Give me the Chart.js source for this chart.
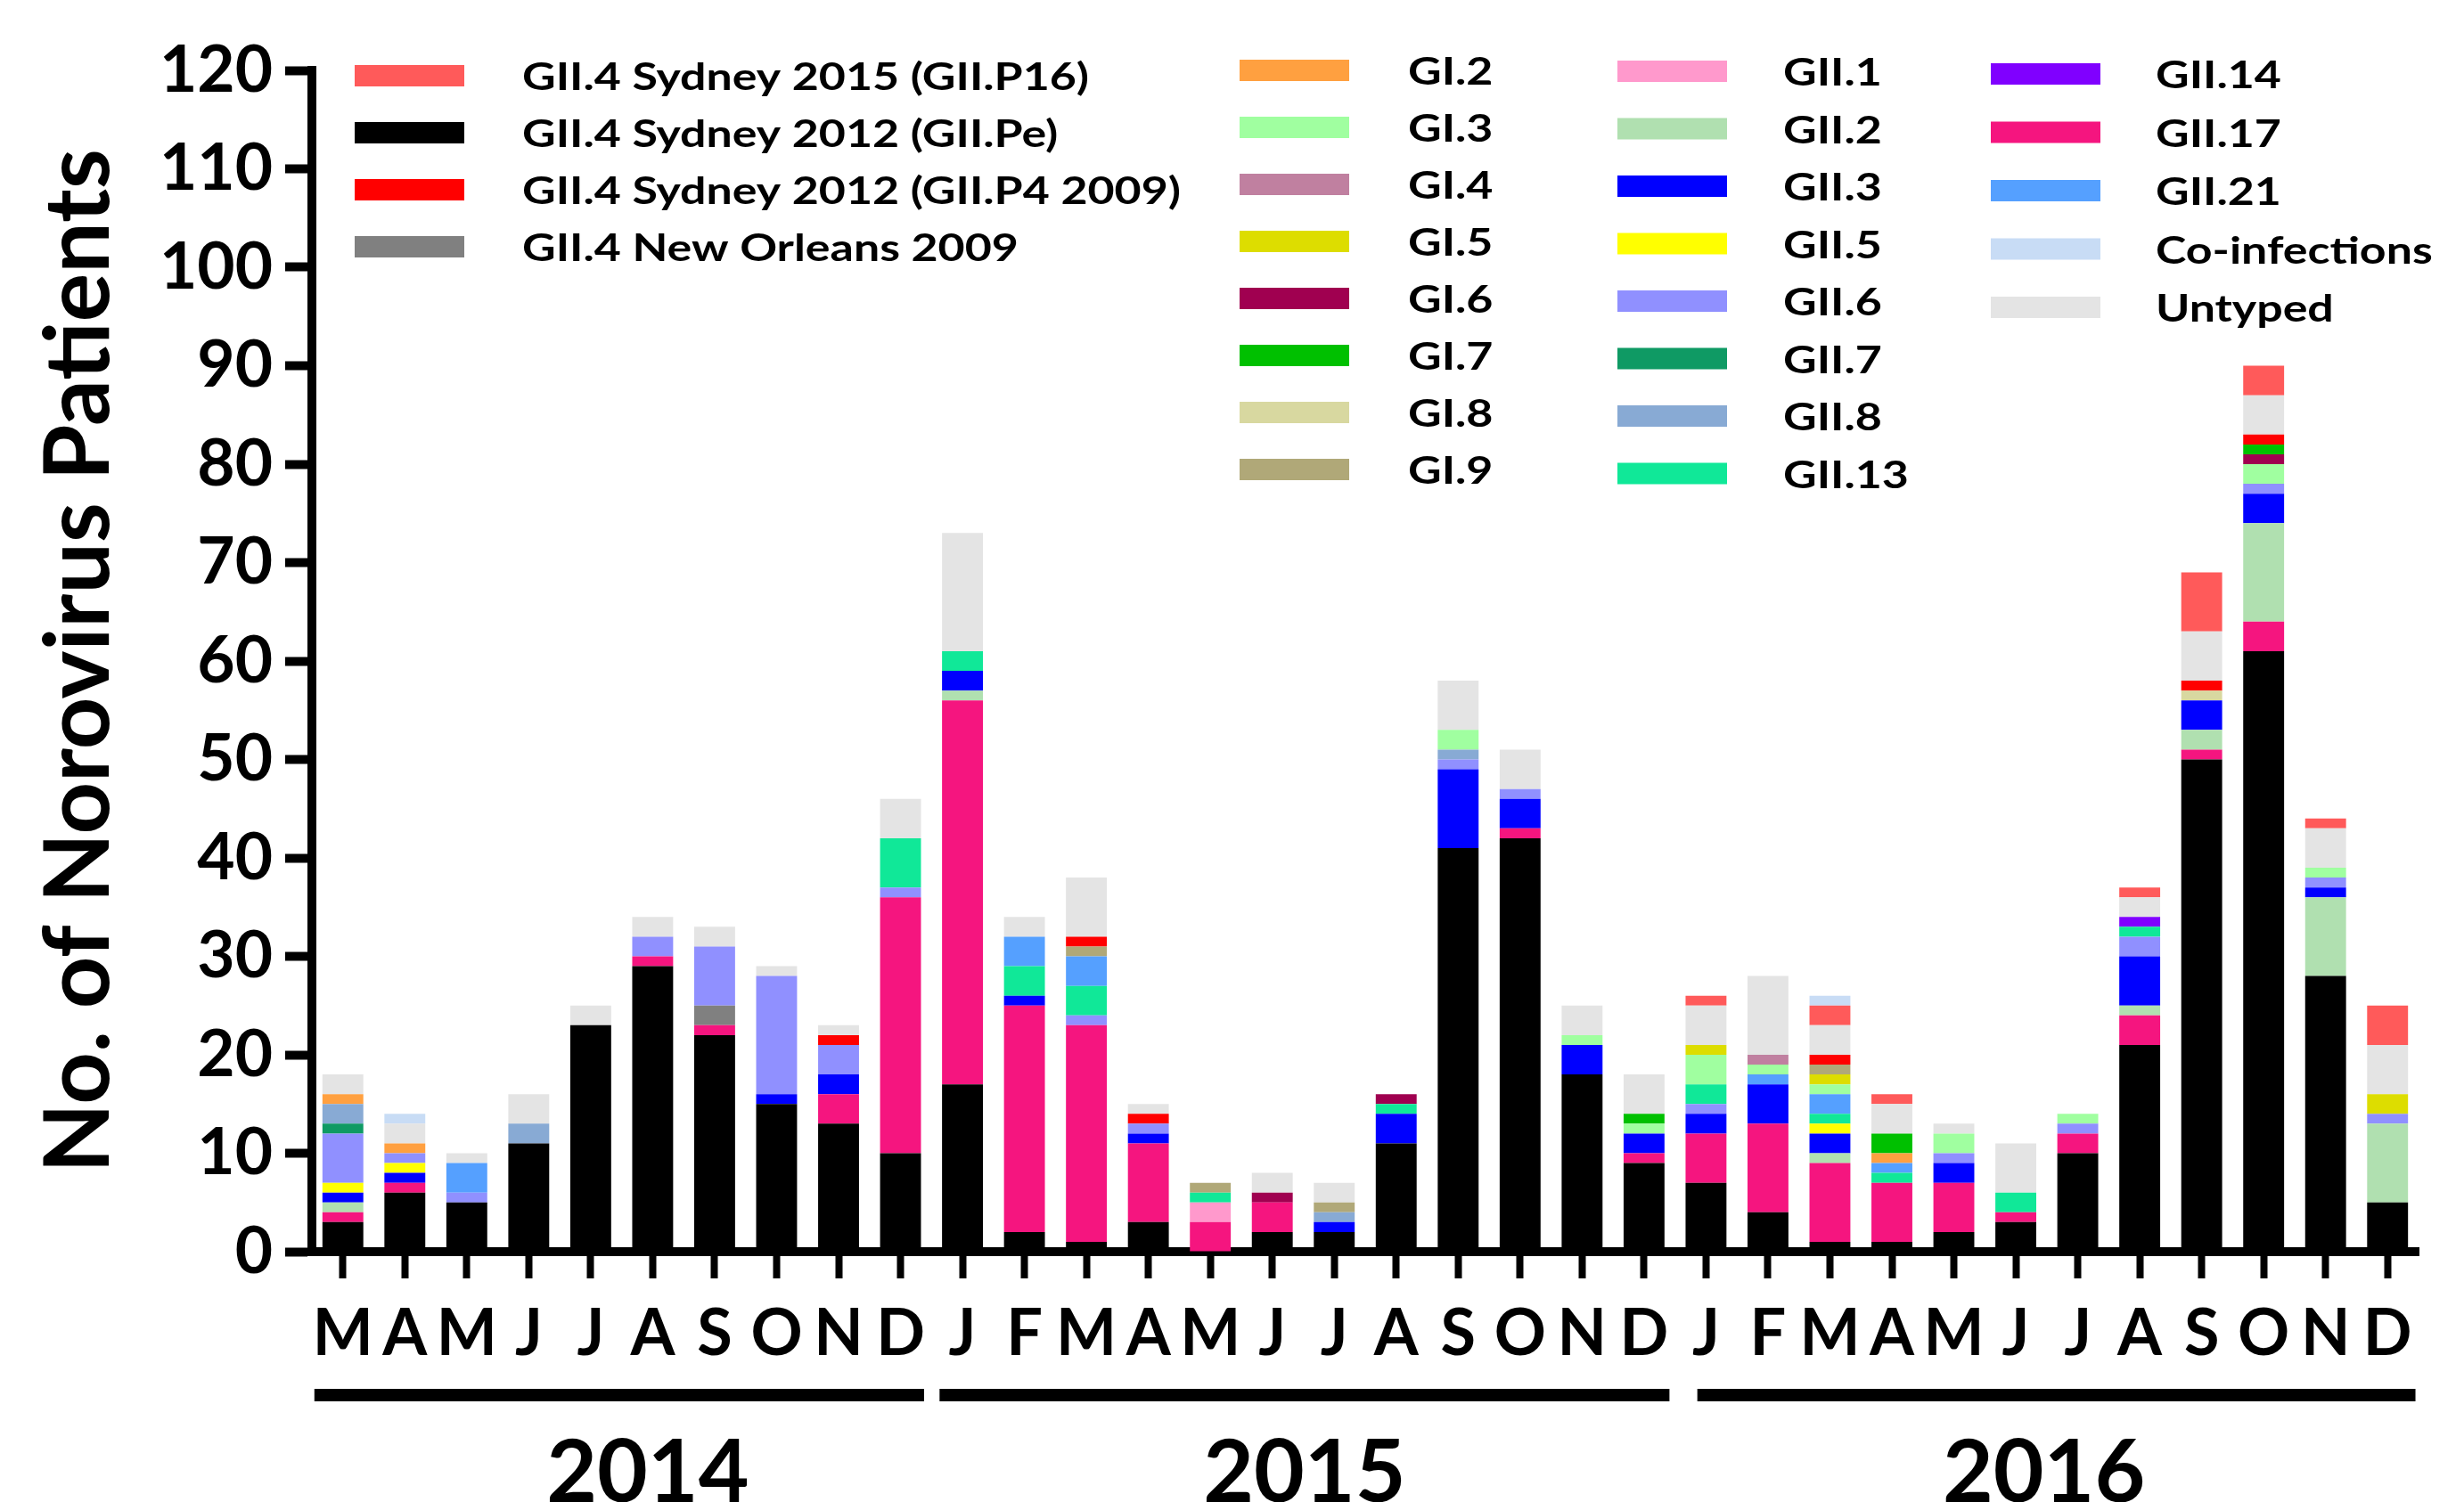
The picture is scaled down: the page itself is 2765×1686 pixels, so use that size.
<!DOCTYPE html>
<html>
<head>
<meta charset="utf-8">
<script src="https://cdn.jsdelivr.net/npm/chart.js@4.4.1/dist/chart.umd.min.js"></script>
<style>
html,body{margin:0;padding:0;background:#fff;}
#wrap{width:2765px;height:1686px;position:relative;overflow:hidden;}
</style>
</head>
<body>
<div id="wrap"><canvas id="c" width="2765" height="1686"></canvas></div>
<script>
// ---------- categories ----------
const months = ['M','A','M','J','J','A','S','O','N','D',
                'J','F','M','A','M','J','J','A','S','O','N','D',
                'J','F','M','A','M','J','J','A','S','O','N','D'];
const years = ['2014','2015','2016'];
const yearStart = [0,10,22];
const yearEnd = [9,21,33];
const yMin = 0, yMax = 120, yStep = 10;

// ---------- series values (bottom of stack first) ----------
const gii4Pe    = [3,6,5,11,23,29,22,15,13,10, 17,2,1,3,0,2,2,11,41,42,18,9, 7,4,1,1,2,3,10,21,50,61,28,5];
const gii17     = [1,1,0,0,0,1,1,0,3,26, 39,23,22,8,3,3,0,0,0,1,0,1, 5,9,8,6,5,1,2,3,1,3,0,0];
const gii4NO09  = [0,0,0,0,0,0,2,0,0,0, 0,0,0,0,0,0,0,0,0,0,0,0, 0,0,0,0,0,0,0,0,0,0,0,0];
const gii1      = [0,0,0,0,0,0,0,0,0,0, 0,0,0,0,2,0,0,0,0,0,0,0, 0,0,0,0,0,0,0,0,0,0,0,0];
const gii2      = [1,0,0,0,0,0,0,0,0,0, 1,0,0,0,0,0,0,0,0,0,0,0, 0,0,1,0,0,0,0,1,2,10,8,8];
const gii3      = [1,1,0,0,0,0,0,1,2,0, 2,1,0,1,0,0,1,3,8,3,3,2, 2,4,2,0,2,0,0,5,3,3,1,0];
const gii5      = [1,1,0,0,0,0,0,0,0,0, 0,0,0,0,0,0,0,0,0,0,0,0, 0,0,1,0,0,0,0,0,0,0,0,0];
const gii6      = [5,1,1,0,0,2,6,12,3,1, 0,0,1,1,0,0,0,0,1,1,0,0, 1,0,0,0,1,0,1,2,0,1,1,1];
const gii7      = [1,0,0,0,0,0,0,0,0,0, 0,0,0,0,0,0,0,0,0,0,0,0, 0,0,0,0,0,0,0,0,0,0,0,0];
const gii8      = [2,0,0,2,0,0,0,0,0,0, 0,0,0,0,0,0,1,0,1,0,0,0, 0,0,0,0,0,0,0,0,0,0,0,0];
const gii13     = [0,0,0,0,0,0,0,0,0,5, 2,3,3,0,1,0,0,1,0,0,0,0, 2,0,1,1,0,2,0,1,0,0,0,0];
const gii14     = [0,0,0,0,0,0,0,0,0,0, 0,0,0,0,0,0,0,0,0,0,0,0, 0,0,0,0,0,0,0,1,0,0,0,0];
const gii21     = [0,0,3,0,0,0,0,0,0,0, 0,3,3,0,0,0,0,0,0,0,0,0, 0,1,2,1,0,0,0,0,0,0,0,0];
const gi2       = [1,1,0,0,0,0,0,0,0,0, 0,0,0,0,0,0,0,0,0,0,0,0, 0,0,0,1,0,0,0,0,0,0,0,0];
const gi3       = [0,0,0,0,0,0,0,0,0,0, 0,0,0,0,0,0,0,0,2,0,1,1, 3,1,1,0,2,0,1,0,0,2,1,0];
const gi4       = [0,0,0,0,0,0,0,0,0,0, 0,0,0,0,0,0,0,0,0,0,0,0, 0,1,0,0,0,0,0,0,0,0,0,0];
const gi5       = [0,0,0,0,0,0,0,0,0,0, 0,0,0,0,0,0,0,0,0,0,0,0, 1,0,1,0,0,0,0,0,0,0,0,2];
const gi6       = [0,0,0,0,0,0,0,0,0,0, 0,0,0,0,0,1,0,1,0,0,0,0, 0,0,0,0,0,0,0,0,0,1,0,0];
const gi7       = [0,0,0,0,0,0,0,0,0,0, 0,0,0,0,0,0,0,0,0,0,0,1, 0,0,0,2,0,0,0,0,0,1,0,0];
const gi8       = [0,0,0,0,0,0,0,0,0,0, 0,0,0,0,0,0,0,0,0,0,0,0, 0,0,0,0,0,0,0,0,1,0,0,0];
const gi9       = [0,0,0,0,0,0,0,0,0,0, 0,0,1,0,1,0,1,0,0,0,0,0, 0,0,1,0,0,0,0,0,0,0,0,0];
const gii4P4    = [0,0,0,0,0,0,0,0,1,0, 0,0,1,1,0,0,0,0,0,0,0,0, 0,0,1,0,0,0,0,0,1,1,0,0];
const untyped   = [2,2,1,3,2,2,2,1,1,4, 12,2,6,1,0,2,2,0,5,4,3,4, 4,8,3,3,1,5,0,2,5,4,4,5];
const gii4P16   = [0,0,0,0,0,0,0,0,0,0, 0,0,0,0,0,0,0,0,0,0,0,0, 1,0,2,1,0,0,0,1,6,3,1,4];
const coinf     = [0,1,0,0,0,0,0,0,0,0, 0,0,0,0,0,0,0,0,0,0,0,0, 0,0,1,0,0,0,0,0,0,0,0,0];

// ---------- legend columns ----------
const legendCol1 = ['GII.4 Sydney 2015 (GII.P16)','GII.4 Sydney 2012 (GII.Pe)','GII.4 Sydney 2012 (GII.P4 2009)','GII.4 New Orleans 2009'];
const legendCol2 = ['GI.2','GI.3','GI.4','GI.5','GI.6','GI.7','GI.8','GI.9'];
const legendCol3 = ['GII.1','GII.2','GII.3','GII.5','GII.6','GII.7','GII.8','GII.13'];
const legendCol4 = ['GII.14','GII.17','GII.21','Co-infections','Untyped'];

const series = [
  {label:'GII.4 Sydney 2012 (GII.Pe)', data:gii4Pe, color:'#000000'},
  {label:'GII.17', data:gii17, color:'#f5157f'},
  {label:'GII.4 New Orleans 2009', data:gii4NO09, color:'#808080'},
  {label:'GII.1', data:gii1, color:'#ff99cc'},
  {label:'GII.2', data:gii2, color:'#b0e0b0'},
  {label:'GII.3', data:gii3, color:'#0000ff'},
  {label:'GII.5', data:gii5, color:'#ffff00'},
  {label:'GII.6', data:gii6, color:'#9090ff'},
  {label:'GII.7', data:gii7, color:'#0f9a64'},
  {label:'GII.8', data:gii8, color:'#88aad4'},
  {label:'GII.13', data:gii13, color:'#10e898'},
  {label:'GII.14', data:gii14, color:'#8000ff'},
  {label:'GII.21', data:gii21, color:'#55a0ff'},
  {label:'GI.2', data:gi2, color:'#ffa040'},
  {label:'GI.3', data:gi3, color:'#a0ffa0'},
  {label:'GI.4', data:gi4, color:'#c080a0'},
  {label:'GI.5', data:gi5, color:'#dddd00'},
  {label:'GI.6', data:gi6, color:'#a00050'},
  {label:'GI.7', data:gi7, color:'#00c000'},
  {label:'GI.8', data:gi8, color:'#d8d8a0'},
  {label:'GI.9', data:gi9, color:'#b0a878'},
  {label:'GII.4 Sydney 2012 (GII.P4 2009)', data:gii4P4, color:'#ff0000'},
  {label:'Untyped', data:untyped, color:'#e4e4e4'},
  {label:'GII.4 Sydney 2015 (GII.P16)', data:gii4P16, color:'#ff5a5a'},
  {label:'Co-infections', data:coinf, color:'#c8dcf5'}
];
const colorOf = {};
series.forEach(s => colorOf[s.label] = s.color);

const FONT = 'Lato, "Open Sans", sans-serif';

// ---------- custom legend (4 columns) ----------
const legendPlugin = {
  id: 'customLegend',
  afterDraw(chart) {
    const ctx = chart.ctx;
    const cols = [
      {items: legendCol1, sx: 398, tx: 586, y0: 85, dy: 64},
      {items: legendCol2, sx: 1391, tx: 1580, y0: 79, dy: 64},
      {items: legendCol3, sx: 1815, tx: 2001, y0: 80, dy: 64.5},
      {items: legendCol4, sx: 2234, tx: 2419, y0: 83, dy: 65.5}
    ];
    ctx.save();
    ctx.font = 'bold 42px ' + FONT;
    ctx.textBaseline = 'alphabetic';
    ctx.textAlign = 'left';
    cols.forEach(col => {
      col.items.forEach((name, i) => {
        const y = col.y0 + i * col.dy;
        ctx.fillStyle = colorOf[name];
        ctx.fillRect(col.sx, y - 12, 123, 24);
        ctx.fillStyle = '#000';
        ctx.save();
        ctx.translate(col.tx, y + 16);
        ctx.scale(1.235, 1);
        ctx.fillText(name, 0, 0);
        ctx.restore();
      });
    });
    ctx.restore();
  }
};

// ---------- year bars and labels ----------
const yearPlugin = {
  id: 'yearBars',
  afterDraw(chart) {
    const ctx = chart.ctx, xs = chart.scales.x;
    const sp = xs.getPixelForValue(1) - xs.getPixelForValue(0);
    const pads = [[-0.46, 0.38], [-0.37, 0.41], [-0.14, 0.45]];
    const labelShift = [32, 0, -14];
    const lineY = chart.chartArea.bottom + 161;
    ctx.save();
    ctx.fillStyle = '#000';
    ctx.font = 'bold 98px ' + FONT;
    ctx.textAlign = 'center';
    ctx.textBaseline = 'alphabetic';
    years.forEach((yr, i) => {
      const l = xs.getPixelForValue(yearStart[i]) + pads[i][0] * sp;
      const r = xs.getPixelForValue(yearEnd[i]) + pads[i][1] * sp;
      ctx.fillRect(l, lineY - 7, r - l, 14);
      ctx.fillText(yr, (l + r) / 2 + labelShift[i], lineY + 120);
    });
    ctx.restore();
  }
};

new Chart(document.getElementById('c').getContext('2d'), {
  type: 'bar',
  data: {
    labels: months,
    datasets: series.map(s => ({
      label: s.label, data: s.data, backgroundColor: s.color,
      borderWidth: 0, barPercentage: 0.66, categoryPercentage: 1.0
    }))
  },
  options: {
    responsive: false,
    animation: false,
    devicePixelRatio: 1,
    layout: {padding: {top: 79, right: 51, left: 0, bottom: 0}},
    plugins: {legend: {display: false}, tooltip: {enabled: false}},
    scales: {
      x: {
        stacked: true,
        grid: {display: true, drawOnChartArea: false, offset: false, drawTicks: true,
               tickLength: 30, tickWidth: 8, tickColor: '#000'},
        border: {display: true, color: '#000', width: 10},
        ticks: {font: {family: FONT, weight: 'bold', size: 72}, color: '#000',
                padding: 20, maxRotation: 0, minRotation: 0, autoSkip: false},
        afterFit: s => { s.height = 281; }
      },
      y: {
        stacked: true, min: yMin, max: yMax,
        grid: {display: true, drawOnChartArea: false, drawTicks: true,
               tickLength: 30, tickWidth: 10, tickColor: '#000'},
        border: {display: true, color: '#000', width: 10},
        ticks: {stepSize: yStep, font: {family: FONT, weight: 'bold', size: 73},
                color: '#000', padding: 14},
        title: {display: true, text: 'No. of Norovirus Patients', color: '#000',
                font: {family: FONT, weight: 'bold', size: 102}, padding: {top: 28, bottom: 0}},
        afterFit: s => { s.width = 350; }
      }
    }
  },
  plugins: [legendPlugin, yearPlugin]
});
</script>
</body>
</html>
